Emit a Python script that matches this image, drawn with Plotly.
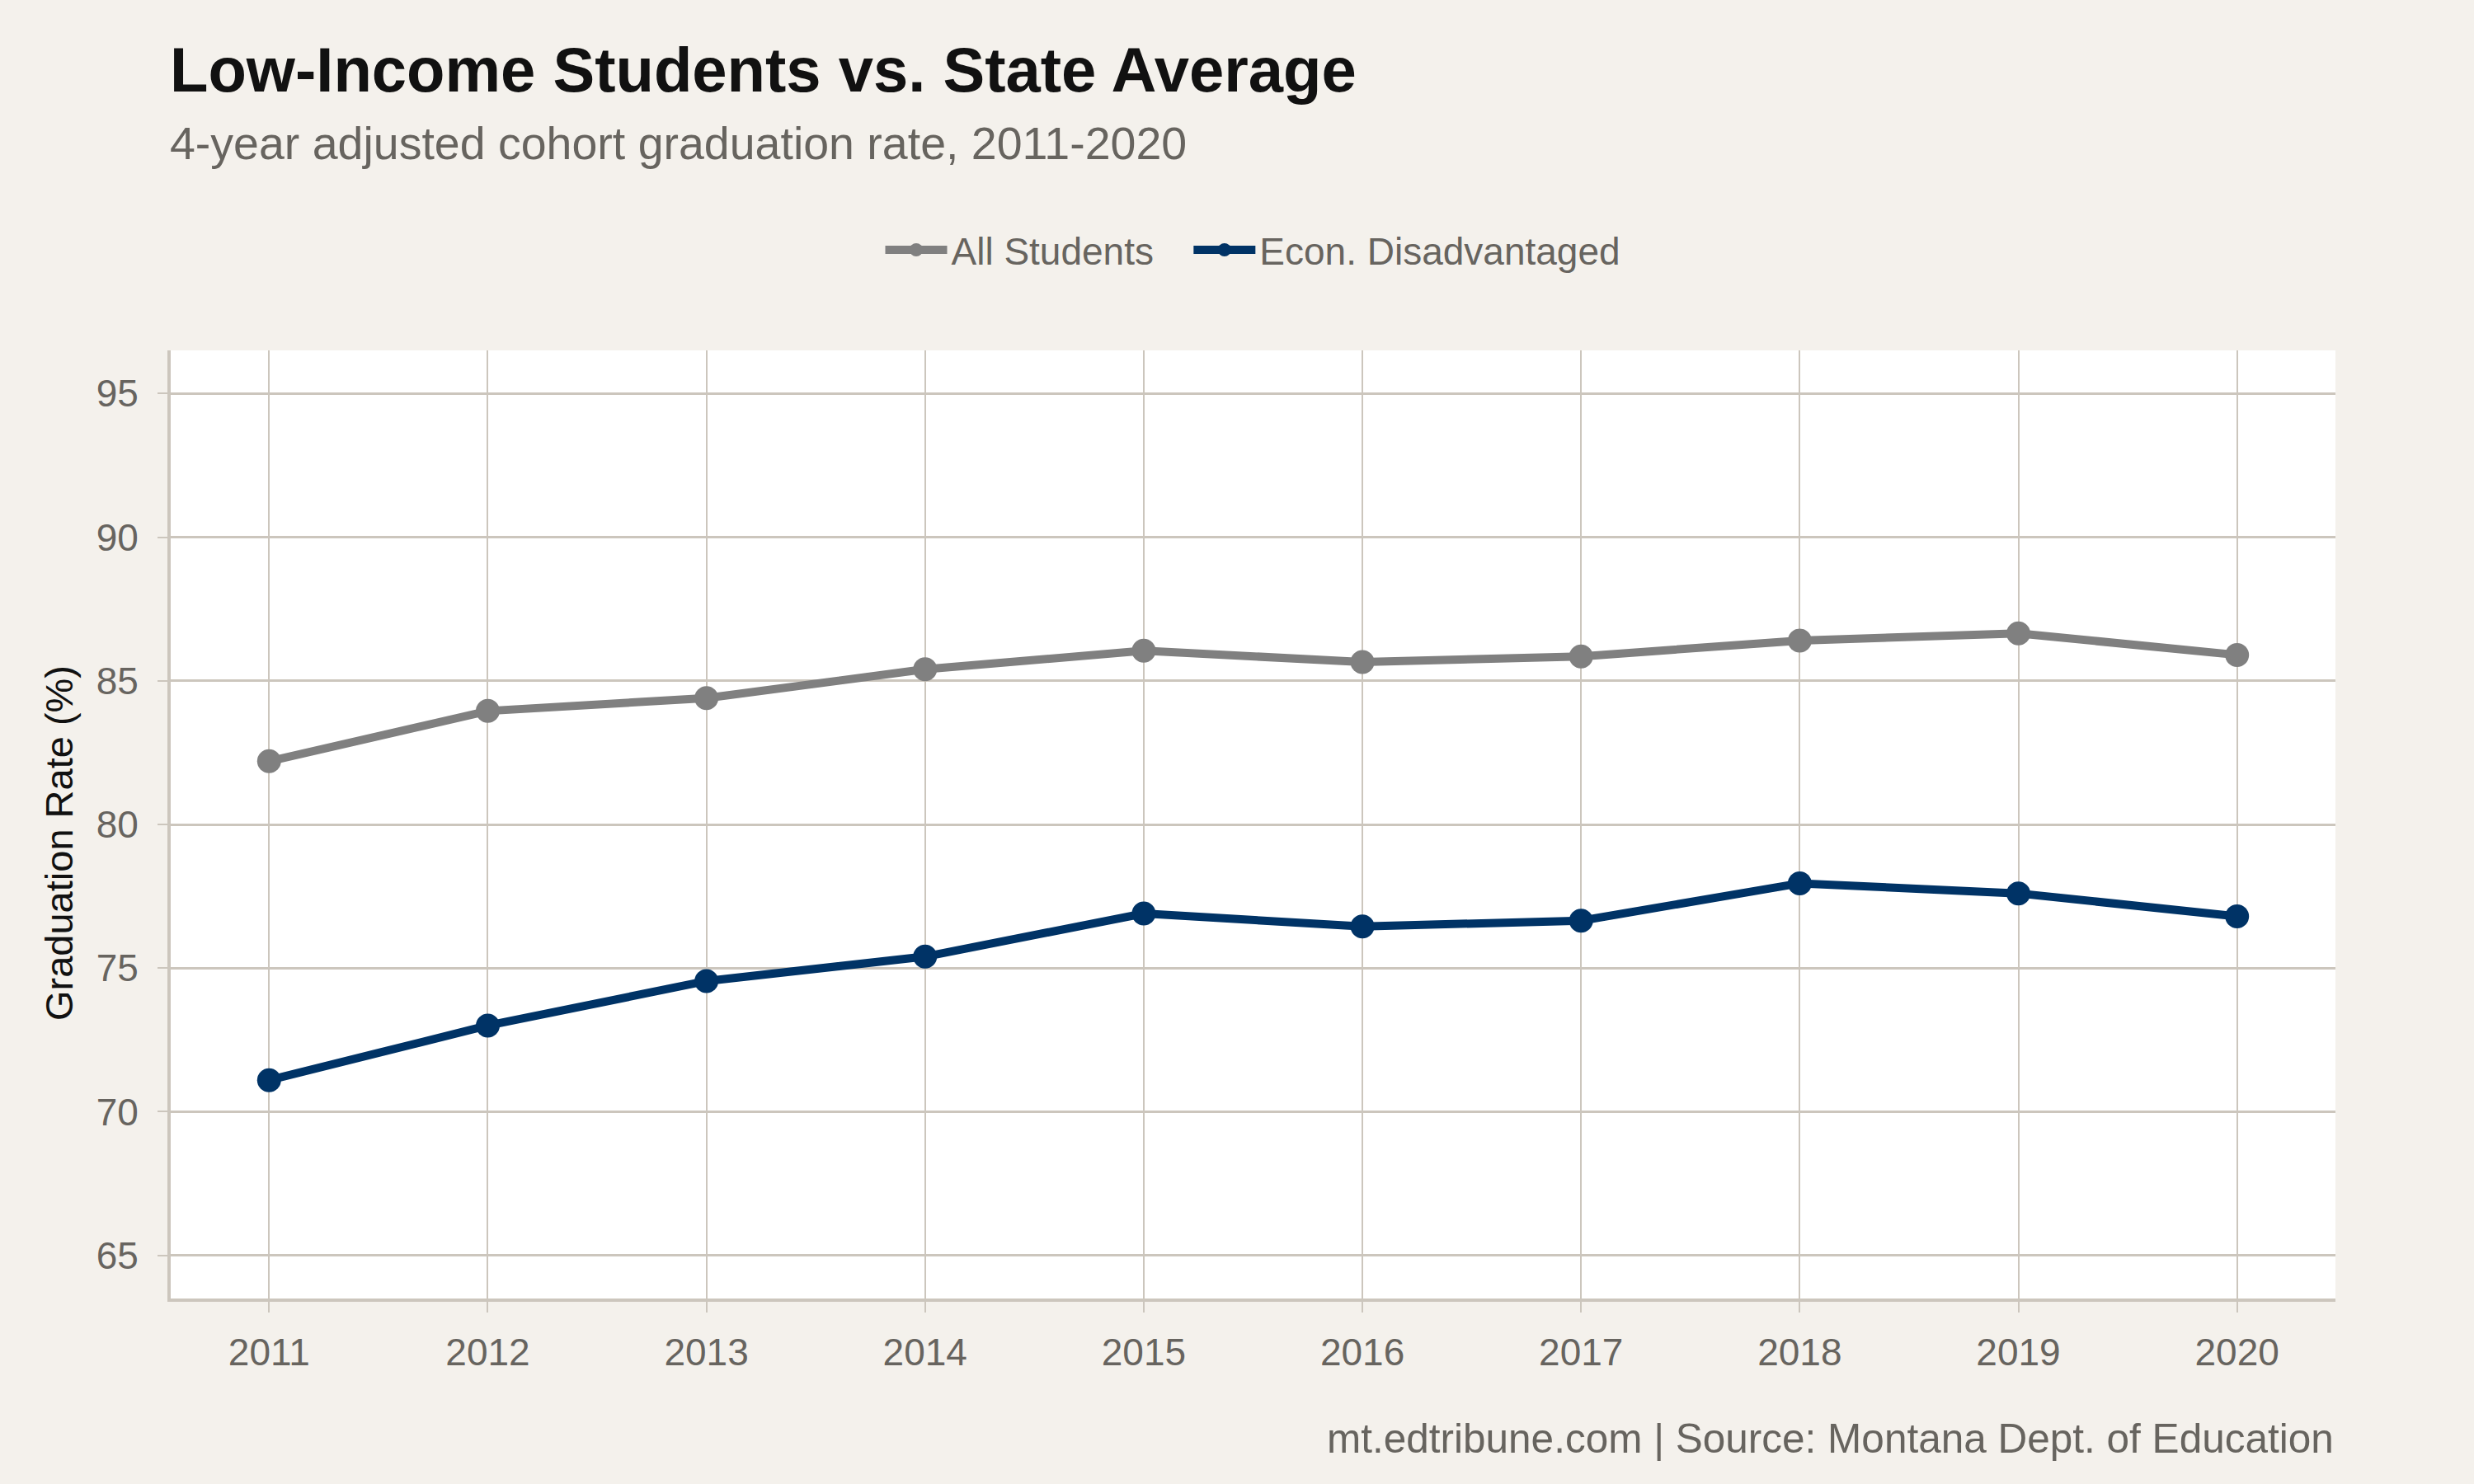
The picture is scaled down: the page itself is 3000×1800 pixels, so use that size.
import plotly.graph_objects as go

years = [2011, 2012, 2013, 2014, 2015, 2016, 2017, 2018, 2019, 2020]
all_students = [82.2, 83.95, 84.4, 85.4, 86.05, 85.65, 85.85, 86.4, 86.65, 85.9]
econ_disadv = [71.1, 73.0, 74.55, 75.4, 76.9, 76.45, 76.65, 77.95, 77.6, 76.8]
series_names = ["All Students", "Econ. Disadvantaged"]
series_colors = ["#808080", "#003366"]
y_ticks = [65, 70, 75, 80, 85, 90, 95]

title_text = "Low-Income Students vs. State Average"
subtitle_text = "4-year adjusted cohort graduation rate, 2011-2020"
caption_text = "mt.edtribune.com | Source: Montana Dept. of Education"
y_title = "Graduation Rate (%)"

BG = "#F4F1EC"
GRID = "#CCC6BD"
TXT = "#67645F"
FONT = "Liberation Sans, Arial, Helvetica, sans-serif"
PAD = "\u00a0\u00a0\u00a0"  # visual spacing between legend entries

fig = go.Figure()
for i, (name, vals, col) in enumerate(zip(series_names, [all_students, econ_disadv], series_colors)):
    label = name + (PAD if i < len(series_names) - 1 else "")
    fig.add_trace(go.Scatter(
        x=years, y=vals, name=label, mode="lines+markers",
        line=dict(color=col, width=10),
        marker=dict(color=col, size=29),
    ))

fig.update_layout(
    width=3000, height=1800,
    paper_bgcolor=BG, plot_bgcolor="white",
    margin=dict(l=207, r=168, t=425, b=225),
    font=dict(family=FONT, color=TXT, size=46),
    showlegend=True,
    legend=dict(orientation="h", x=0.5, xanchor="center", y=1.106, yanchor="middle",
                font=dict(size=46, color=TXT), bgcolor="rgba(0,0,0,0)",
                itemwidth=75),
    annotations=[
        dict(text="<b>" + title_text + "</b>", xref="paper", yref="paper", x=-0.001, y=1.296,
             xanchor="left", yanchor="middle", showarrow=False,
             font=dict(size=76, color="#111111", family=FONT)),
        dict(text=subtitle_text, xref="paper", yref="paper", x=-0.001, y=1.218,
             xanchor="left", yanchor="middle", showarrow=False,
             font=dict(size=55.5, color=TXT, family=FONT)),
        dict(text=caption_text, xref="paper", yref="paper", x=1.0, y=-0.147,
             xanchor="right", yanchor="middle", showarrow=False,
             font=dict(size=49.5, color=TXT, family=FONT)),
        dict(text=y_title, xref="paper", yref="paper", x=-0.0518, y=0.48,
             xanchor="center", yanchor="middle", textangle=-90, showarrow=False,
             font=dict(size=47, color="#111111", family=FONT)),
    ],
)

fig.update_xaxes(
    range=[2010.55, 2020.45], tickvals=years, ticktext=[str(y) for y in years],
    showgrid=True, gridcolor=GRID, gridwidth=2, zeroline=False,
    showline=True, linecolor=GRID, linewidth=4,
    ticks="outside", ticklen=13, tickwidth=2, tickcolor=GRID,
    tickfont=dict(size=46, color=TXT), ticklabelstandoff=9,
)
fig.update_yaxes(
    range=[63.5, 96.5], tickvals=y_ticks,
    showgrid=True, gridcolor=GRID, gridwidth=2.5, zeroline=False,
    showline=True, linecolor=GRID, linewidth=4,
    ticks="outside", ticklen=12, tickwidth=2, tickcolor=GRID,
    tickfont=dict(size=46, color=TXT), ticklabelstandoff=14,
)

fig.write_html("out.html")
